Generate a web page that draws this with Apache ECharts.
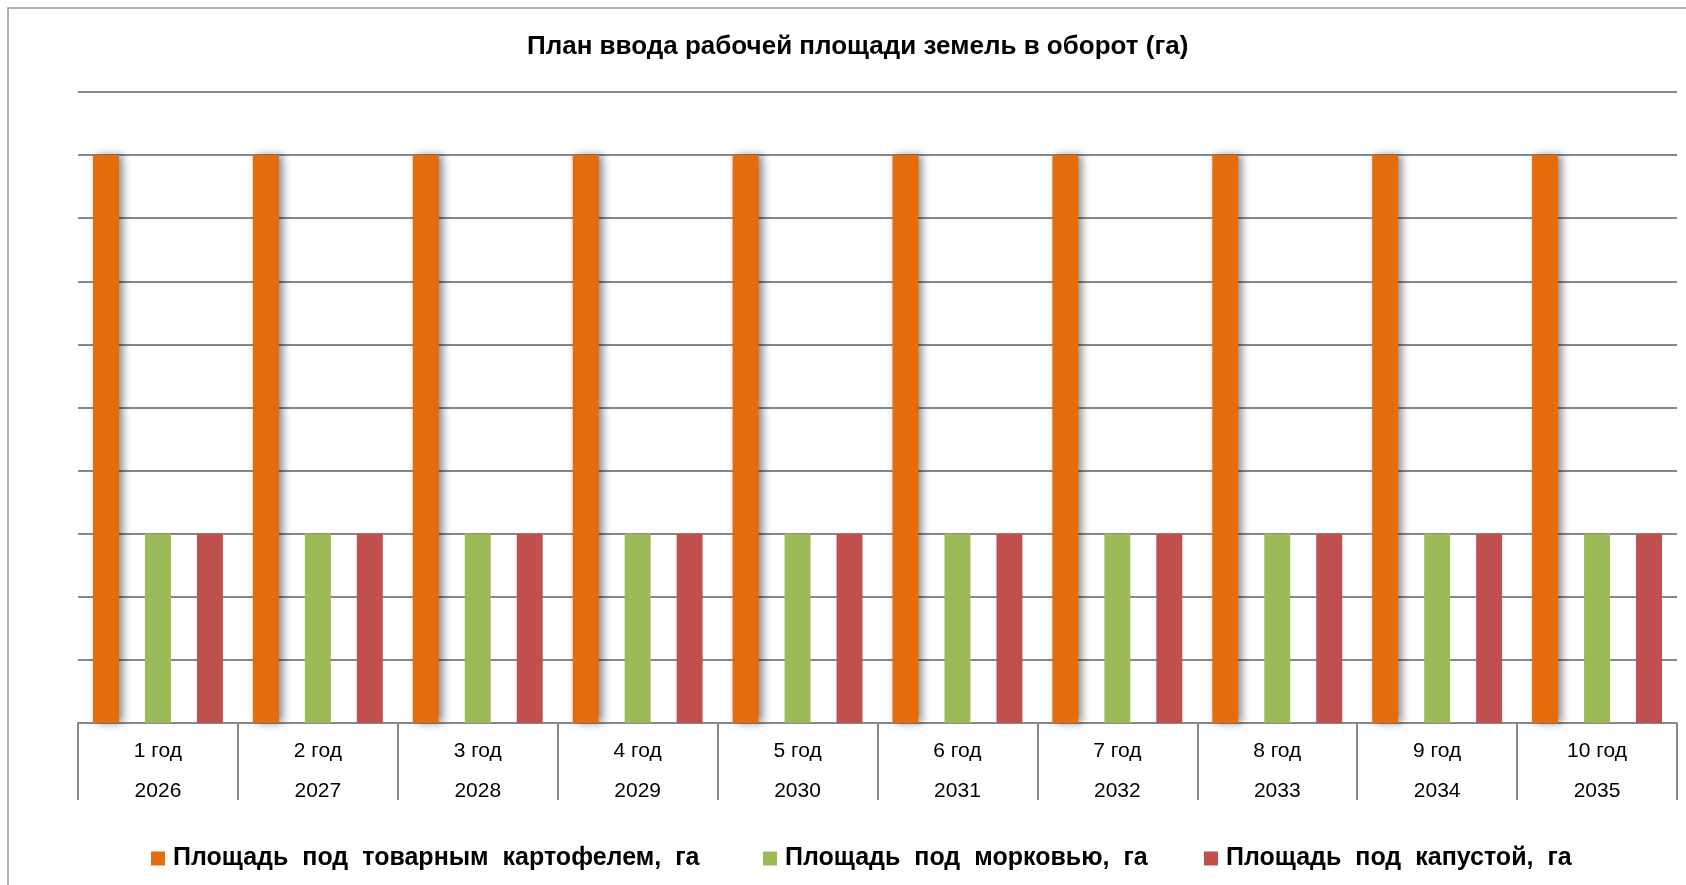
<!DOCTYPE html>
<html>
<head>
<meta charset="utf-8">
<script src="https://cdn.jsdelivr.net/npm/echarts@6/dist/echarts.min.js"></script>
<style>
html,body{margin:0;padding:0;background:#fff;}
#c{width:1686px;height:885px;}
</style>
</head>
<body>
<div id="c"></div>
<script>
const periods = ['1 год','2 год','3 год','4 год','5 год','6 год','7 год','8 год','9 год','10 год'];
const years = ['2026','2027','2028','2029','2030','2031','2032','2033','2034','2035'];
const potato = [9,9,9,9,9,9,9,9,9,9];
const carrot = [3,3,3,3,3,3,3,3,3,3];
const cabbage = [3,3,3,3,3,3,3,3,3,3];
const seriesNames = ['Площадь под товарным картофелем, га','Площадь под морковью, га','Площадь под капустой, га'];
const titleText = 'План ввода рабочей площади земель в оборот (га)';

const categories = periods.map((p,i)=>p+'\n'+years[i]);
const chart = echarts.init(document.getElementById('c'));
const FONT = '"Liberation Sans", Arial, sans-serif';
const legendX = [151, 763, 1204];
function mkLegend(i){
  return {top:846,left:legendX[i],padding:0,itemWidth:14,itemHeight:14,icon:'rect',
    data:[seriesNames[i]],
    formatter:function(n){return n.split(' ').map(w=>'{t|'+w+'}').join('{s| }');},
    textStyle:{fontFamily:FONT,fontWeight:'bold',fontSize:25,color:'#000',padding:[0,0,0,3],
      rich:{t:{fontFamily:FONT,fontWeight:'bold',fontSize:25,color:'#000'},
            s:{fontFamily:FONT,fontWeight:'bold',fontSize:25,width:14}}}};
}
chart.setOption({
  animation:false,
  backgroundColor:'#fff',
  color:['#E46C0A','#9BBB59','#C0504D'],
  title:{text:titleText,left:522,top:29,textStyle:{fontFamily:FONT,fontWeight:'bold',fontSize:26,color:'#000'}},
  graphic:[{type:'rect',shape:{x:8,y:8,width:1700,height:900},style:{fill:'none',stroke:'#9a9a9a',lineWidth:1.5},silent:true}],
  legend:[mkLegend(0),mkLegend(1),mkLegend(2)],
  grid:{left:78,right:9,top:92,bottom:162},
  xAxis:{type:'category',data:categories,
    axisLine:{lineStyle:{color:'#888',width:2}},
    axisTick:{show:true,length:77,interval:0,lineStyle:{color:'#888',width:2}},
    axisLabel:{interval:0,margin:8,fontFamily:FONT,fontSize:21,color:'#000',lineHeight:40}},
  yAxis:{type:'value',min:0,max:10,interval:1,
    axisLabel:{show:false},axisLine:{show:false},axisTick:{show:false},
    splitLine:{lineStyle:{color:'#888',width:2}}},
  series:[
    {name:seriesNames[0],type:'bar',data:potato,barGap:'100%',barCategoryGap:'18.75%',
      itemStyle:{shadowColor:'rgba(0,0,0,0.45)',shadowBlur:8,shadowOffsetX:4,shadowOffsetY:0}},
    {name:seriesNames[1],type:'bar',data:carrot,barGap:'100%',barCategoryGap:'18.75%'},
    {name:seriesNames[2],type:'bar',data:cabbage,barGap:'100%',barCategoryGap:'18.75%'}
  ]
});
</script>
</body>
</html>
